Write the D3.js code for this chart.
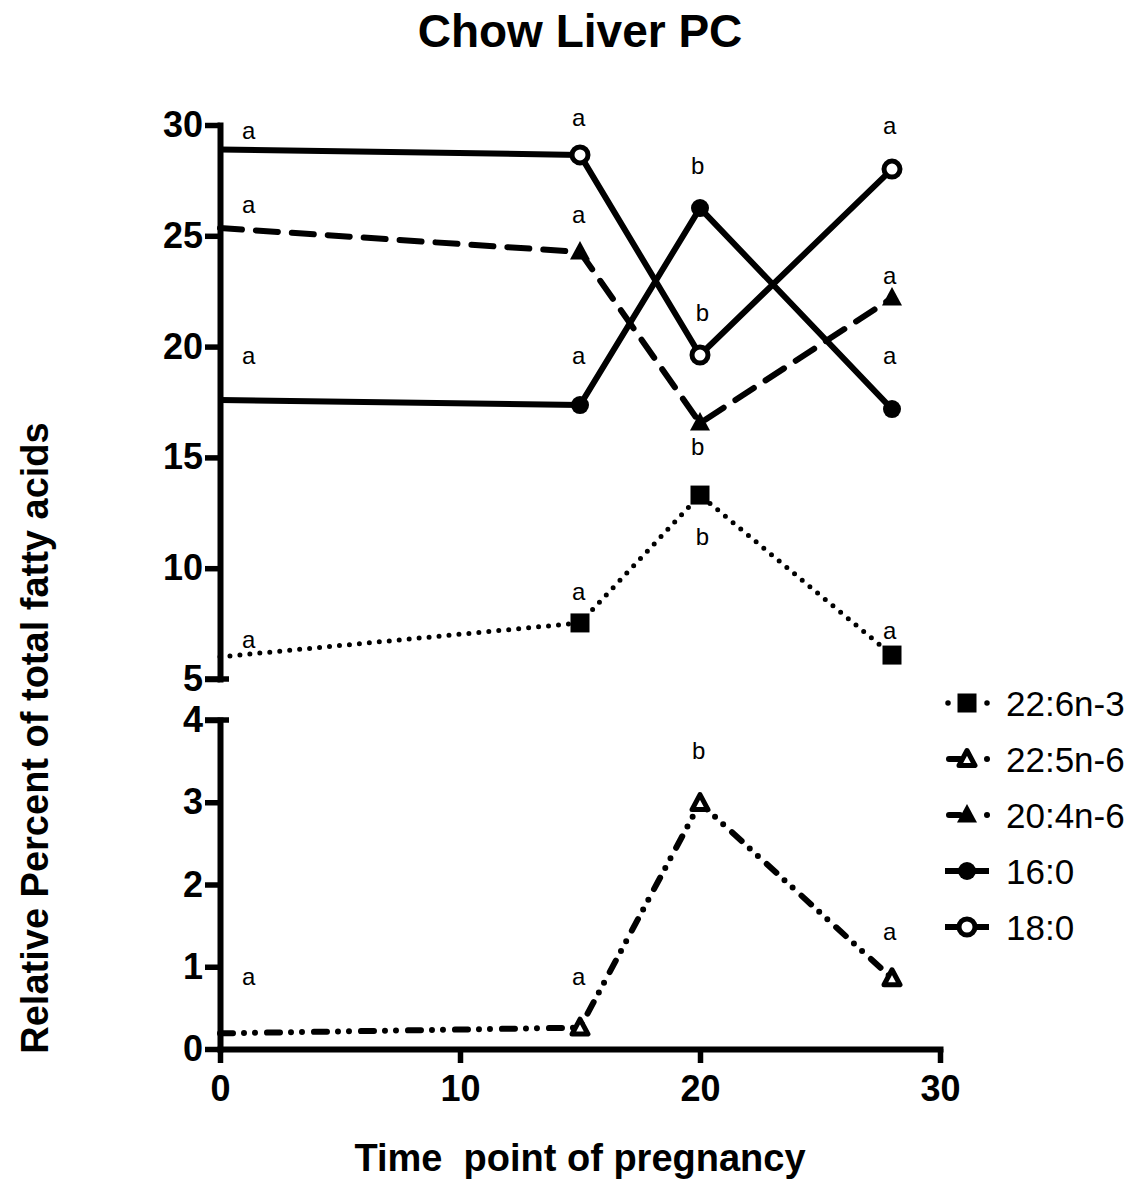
<!DOCTYPE html>
<html>
<head>
<meta charset="utf-8">
<script src="https://cdn.jsdelivr.net/npm/d3@7"></script>
<style>
  body { margin: 0; background: #fff; }
  text { font-family: "Liberation Sans", Arial, sans-serif; fill: #000; }
</style>
</head>
<body>
<div id="chart"></div>
<script>
// time points (days of pregnancy)
var days = [0, 15, 20, 28];

// relative percent of total fatty acids
var dha = [6.0, 7.53, 13.3, 6.08];        // 22:6n-3
var dpa = [0.19, 0.26, 2.99, 0.86];       // 22:5n-6
var ara = [25.35, 24.27, 16.55, 22.19];   // 20:4n-6
var palmitic = [17.59, 17.36, 26.25, 17.18]; // 16:0
var stearic = [28.9, 28.65, 19.62, 28.01];   // 18:0

// significance letters
var dhaLetters = ["a", "a", "b", "a"];
var dpaLetters = ["a", "a", "b", "a"];
var araLetters = ["a", "a", "b", "a"];
var palmiticLetters = ["a", "a", "b", "a"];
var stearicLetters = ["a", "a", "b", "a"];

var xTicks = [0, 10, 20, 30];
var yTopTicks = [5, 10, 15, 20, 25, 30];
var yBottomTicks = [0, 1, 2, 3, 4];

// where the letters sit, in axis units (day, value)
var dhaLetterAt = [[1.2, 6.67], [14.95, 8.88], [20.1, 11.41], [27.9, 7.12]];
var dpaLetterAt = [[1.2, 0.86], [14.95, 0.86], [19.95, 3.63], [27.9, 1.41]];
var araLetterAt = [[1.2, 26.3], [14.95, 25.85], [19.9, 15.51], [27.9, 23.1]];
var palmiticLetterAt = [[1.2, 19.53], [14.95, 19.53], [19.9, 28.19], [27.9, 19.53]];
var stearicLetterAt = [[1.2, 29.64], [14.95, 30.27], [20.1, 21.52], [27.9, 29.9]];

var svgWidth = 1146;
var svgHeight = 1181;

var svg = d3.select("#chart")
  .append("svg")
  .attr("width", svgWidth)
  .attr("height", svgHeight);

// scales: one x, a broken y (upper and lower panels)
var x = d3.scaleLinear().domain([0, 30]).range([220, 940]);
var yTop = d3.scaleLinear().domain([5, 30]).range([679, 125]);
var yBottom = d3.scaleLinear().domain([0, 4]).range([1049, 720]);

var series = [
  { name: "22:6n-3", values: dha, letters: dhaLetters, at: dhaLetterAt, y: yTop,
    dash: "0,10", symbol: "square", filled: true },
  { name: "22:5n-6", values: dpa, letters: dpaLetters, at: dpaLetterAt, y: yBottom,
    dash: "13,11,0,11,0,12", symbol: "triangle", filled: false },
  { name: "20:4n-6", values: ara, letters: araLetters, at: araLetterAt, y: yTop,
    dash: "22,14", symbol: "triangle", filled: true },
  { name: "16:0", values: palmitic, letters: palmiticLetters, at: palmiticLetterAt, y: yTop,
    dash: null, symbol: "circle", filled: true },
  { name: "18:0", values: stearic, letters: stearicLetters, at: stearicLetterAt, y: yTop,
    dash: null, symbol: "circle", filled: false }
];

function drawMarker(g, s, cx, cy) {
  if (s.symbol === "square") {
    g.append("rect")
      .attr("x", cx - 9.5).attr("y", cy - 9.5)
      .attr("width", 19).attr("height", 19)
      .attr("fill", "#000");
  } else if (s.symbol === "circle") {
    if (s.filled) {
      g.append("circle").attr("cx", cx).attr("cy", cy).attr("r", 9).attr("fill", "#000");
    } else {
      g.append("circle").attr("cx", cx).attr("cy", cy).attr("r", 8)
        .attr("fill", "#fff").attr("stroke", "#000").attr("stroke-width", 5);
    }
  } else if (s.symbol === "triangle") {
    if (s.filled) {
      g.append("path")
        .attr("d", "M" + cx + "," + (cy - 11) + "L" + (cx + 10) + "," + (cy + 7.5) + "L" + (cx - 10) + "," + (cy + 7.5) + "Z")
        .attr("fill", "#000");
    } else {
      g.append("path")
        .attr("d", "M" + cx + "," + (cy - 8.5) + "L" + (cx + 8) + "," + (cy + 6.5) + "L" + (cx - 8) + "," + (cy + 6.5) + "Z")
        .attr("fill", "#fff").attr("stroke", "#000").attr("stroke-width", 5)
        .attr("stroke-linejoin", "round");
    }
  }
}

// lines
var plot = svg.append("g").attr("class", "plot");

series.forEach(function(s) {
  var pts = days.map(function(d, i) { return [d, s.values[i]]; });
  var line = d3.line()
    .x(function(d) { return x(d[0]); })
    .y(function(d) { return s.y(d[1]); });

  plot.append("path")
    .datum(pts)
    .attr("d", line)
    .attr("fill", "none")
    .attr("stroke", "#000")
    .attr("stroke-width", s.dash === "0,10" ? 5 : 6)
    .attr("stroke-linecap", s.dash ? "round" : "butt")
    .attr("stroke-linejoin", "round")
    .attr("stroke-dasharray", s.dash);
});

// markers (the day-0 points sit under the axis and are not shown)
series.forEach(function(s) {
  var g = plot.append("g");
  days.forEach(function(d, i) {
    if (d === 0) return;
    drawMarker(g, s, x(d), s.y(s.values[i]));
  });
});

// letters
series.forEach(function(s) {
  s.at.forEach(function(p, i) {
    var t = s.letters[i];
    plot.append("text")
      .attr("x", x(p[0]))
      .attr("y", s.y(p[1]) + (t === "b" ? 8.5 : 6.5))
      .attr("text-anchor", "middle")
      .style("font-size", "24px")
      .text(t);
  });
});

// axes
function styleAxis(g) {
  g.select(".domain").attr("stroke-width", 6).attr("stroke-linecap", "square");
  g.selectAll(".tick line").attr("stroke-width", 5.5);
  g.selectAll(".tick text")
    .style("font-size", "36px")
    .style("font-weight", "bold")
    .attr("fill", "#000");
}

var axisX = x(0);

svg.append("g")
  .attr("transform", "translate(" + axisX + ",0)")
  .call(d3.axisLeft(yTop).tickValues(yTopTicks).tickFormat(d3.format("d"))
    .tickSize(15).tickSizeOuter(0).tickPadding(2))
  .call(styleAxis);

svg.append("g")
  .attr("transform", "translate(" + axisX + ",0)")
  .call(d3.axisLeft(yBottom).tickValues(yBottomTicks).tickFormat(d3.format("d"))
    .tickSize(15).tickSizeOuter(0).tickPadding(2))
  .call(styleAxis);

svg.append("g")
  .attr("transform", "translate(0," + yBottom(0) + ")")
  .call(d3.axisBottom(x).tickValues(xTicks).tickSize(14).tickSizeOuter(0).tickPadding(8))
  .call(styleAxis)
  .call(function(g) { g.selectAll(".tick text").attr("dy", "0.82em"); });

// end caps at the axis break
[yTop(5), yBottom(4)].forEach(function(yy) {
  svg.append("line")
    .attr("x1", axisX - 15).attr("x2", axisX + 9)
    .attr("y1", yy).attr("y2", yy)
    .attr("stroke", "#000").attr("stroke-width", 5.5);
});

// titles
svg.append("text")
  .attr("x", 580)
  .attr("y", 47)
  .attr("text-anchor", "middle")
  .style("font-size", "46px")
  .style("font-weight", "bold")
  .text("Chow Liver PC");

svg.append("text")
  .attr("transform", "translate(35,738) rotate(-90)")
  .attr("text-anchor", "middle")
  .attr("dominant-baseline", "central")
  .style("font-size", "38px")
  .style("font-weight", "bold")
  .text("Relative Percent of total fatty acids");

svg.append("text")
  .attr("x", 580)
  .attr("y", 1171)
  .attr("text-anchor", "middle")
  .style("font-size", "38px")
  .style("font-weight", "bold")
  .style("white-space", "pre")
  .text("Time  point of pregnancy");

// legend
var legend = svg.append("g").attr("class", "legend");
series.forEach(function(s, i) {
  var ly = 703 + i * 56;
  var g = legend.append("g");
  var sample = g.append("path")
    .attr("fill", "none")
    .attr("stroke", "#000")
    .attr("stroke-width", 6)
    .attr("stroke-linecap", s.dash ? "round" : "butt");
  if (s.dash === "0,10") {
    // a dot either side of the marker
    sample.attr("d", "M948," + ly + "h0.01M987," + ly + "h0.01").attr("stroke-width", 5.5);
  } else if (s.dash) {
    // a short dash left, a dot right
    sample.attr("d", "M949," + ly + "H960M987," + ly + "h0.01");
  } else {
    sample.attr("d", "M945," + ly + "H989");
  }
  drawMarker(g, s, 967, ly);
  g.append("text")
    .attr("x", 1006)
    .attr("y", ly)
    .attr("dy", "0.36em")
    .style("font-size", "35px")
    .text(s.name);
});
</script>
</body>
</html>
